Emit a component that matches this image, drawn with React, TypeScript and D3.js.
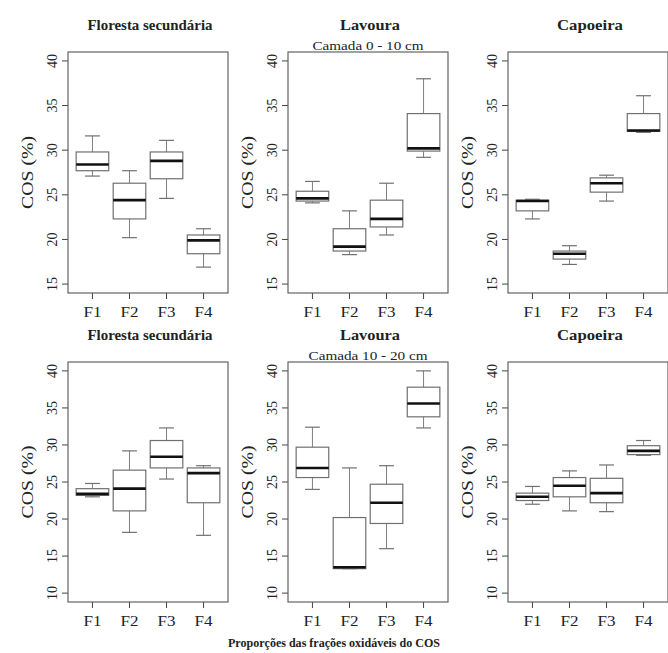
import * as d3 from 'd3';

// each row: [lower whisker, Q1, median, Q3, upper whisker] for F1..F4
const fractions = ['F1', 'F2', 'F3', 'F4'];

const florestaTop = [
  [27.1, 27.7, 28.4, 29.8, 31.6],
  [20.2, 22.3, 24.4, 26.3, 27.7],
  [24.6, 26.8, 28.8, 29.8, 31.1],
  [16.9, 18.4, 19.9, 20.5, 21.2],
];
const lavouraTop = [
  [24.1, 24.3, 24.6, 25.4, 26.5],
  [18.3, 18.7, 19.2, 21.2, 23.2],
  [20.5, 21.4, 22.3, 24.4, 26.3],
  [29.2, 29.9, 30.2, 34.1, 38.0],
];
const capoeiraTop = [
  [22.3, 23.2, 24.3, 24.4, 24.5],
  [17.2, 17.8, 18.4, 18.7, 19.3],
  [24.3, 25.3, 26.3, 26.9, 27.2],
  [32.0, 32.1, 32.2, 34.1, 36.1],
];
const florestaBottom = [
  [23.0, 23.2, 23.4, 24.1, 24.8],
  [18.2, 21.1, 24.1, 26.6, 29.2],
  [25.4, 26.9, 28.4, 30.6, 32.3],
  [17.8, 22.2, 26.2, 26.9, 27.2],
];
const lavouraBottom = [
  [24.0, 25.6, 26.9, 29.7, 32.4],
  [13.3, 13.3, 13.5, 20.2, 26.9],
  [16.0, 19.4, 22.2, 24.7, 27.2],
  [32.3, 33.8, 35.6, 37.8, 40.0],
];
const capoeiraBottom = [
  [22.0, 22.5, 23.0, 23.5, 24.4],
  [21.1, 23.0, 24.5, 25.6, 26.5],
  [21.0, 22.2, 23.5, 25.5, 27.3],
  [28.6, 28.7, 29.2, 29.9, 30.6],
];

const topTicks = [15, 20, 25, 30, 35, 40];
const bottomTicks = [10, 15, 20, 25, 30, 35, 40];

const W = 668;
const H = 653;
const PANEL_W = 160;
const LEFTS = [68, 288, 508];
const FONT = "'Liberation Serif', 'Times New Roman', serif";
const BOX_COLOR = '#707070';

interface PanelProps {
  left: number;
  top: number;
  bottom: number;
  domain: [number, number];
  ticks: number[];
  data: number[][];
  title: string;
  titleWidth: number;
  subtitle?: string;
  subtitleWidth?: number;
}

function Panel({ left, top, bottom, domain, ticks, data, title, titleWidth, subtitle, subtitleWidth }: PanelProps) {
  const x = d3.scaleLinear().domain([0.34, 4.66]).range([left, left + PANEL_W]);
  const y = d3.scaleLinear().domain(domain).range([bottom, top]);
  const cx = left + PANEL_W / 2;
  const half = x(0.44) - x(0);
  const cap = x(0.2) - x(0);

  return (
    <g>
      <text
        x={cx + 2}
        y={top - 22}
        textAnchor="middle"
        fontWeight="bold"
        fontSize={15}
        textLength={titleWidth}
        lengthAdjust="spacingAndGlyphs"
      >
        {title}
      </text>
      {subtitle && (
        <text
          x={cx}
          y={top - 2}
          textAnchor="middle"
          fontSize={12}
          textLength={subtitleWidth}
          lengthAdjust="spacingAndGlyphs"
        >
          {subtitle}
        </text>
      )}

      {/* y axis */}
      {ticks.map((t) => (
        <g key={t}>
          <line x1={left - 6} x2={left} y1={y(t)} y2={y(t)} stroke="#444" />
          <text
            transform={`translate(${left - 11},${y(t)}) rotate(-90)`}
            textAnchor="middle"
            fontSize={14}
          >
            {t}
          </text>
        </g>
      ))}
      <text
        transform={`translate(${left - 35},${(top + bottom) / 2}) rotate(-90)`}
        textAnchor="middle"
        fontSize={16}
        textLength={73}
        lengthAdjust="spacingAndGlyphs"
      >
        COS (%)
      </text>

      {/* x axis */}
      {fractions.map((f, i) => (
        <g key={f}>
          <line x1={x(i + 1)} x2={x(i + 1)} y1={bottom} y2={bottom + 6} stroke="#444" />
          <text
            x={x(i + 1)}
            y={bottom + 24}
            textAnchor="middle"
            fontSize={15}
            textLength={18}
            lengthAdjust="spacingAndGlyphs"
          >
            {f}
          </text>
        </g>
      ))}

      {/* boxes */}
      {data.map((d, i) => {
        const c = x(i + 1);
        const [lo, q1, med, q3, hi] = d;
        return (
          <g key={i} fill="none">
            <line x1={c} x2={c} y1={y(q3)} y2={y(hi)} stroke={BOX_COLOR} strokeWidth={0.9} />
            <line x1={c} x2={c} y1={y(q1)} y2={y(lo)} stroke={BOX_COLOR} strokeWidth={0.9} />
            <line x1={c - cap} x2={c + cap} y1={y(hi)} y2={y(hi)} stroke={BOX_COLOR} strokeWidth={1.2} />
            <line x1={c - cap} x2={c + cap} y1={y(lo)} y2={y(lo)} stroke={BOX_COLOR} strokeWidth={1.2} />
            <rect
              x={c - half}
              y={y(q3)}
              width={half * 2}
              height={Math.max(0.5, y(q1) - y(q3))}
              fill="#fff"
              stroke={BOX_COLOR}
              strokeWidth={1.2}
            />
            <line x1={c - half} x2={c + half} y1={y(med)} y2={y(med)} stroke="#111" strokeWidth={2.6} />
          </g>
        );
      })}

      <rect x={left} y={top} width={PANEL_W} height={bottom - top} fill="none" stroke="#555" strokeWidth={1.1} />
    </g>
  );
}

export default function App() {
  const topRow = [florestaTop, lavouraTop, capoeiraTop];
  const bottomRow = [florestaBottom, lavouraBottom, capoeiraBottom];
  const titles = ['Floresta secundária', 'Lavoura', 'Capoeira'];
  const titleWidths = [125, 60, 66];

  return (
    <svg
      width={W}
      height={H}
      style={{ position: 'absolute', left: 0, top: 0, background: '#fff', fontFamily: FONT }}
      fill="#222"
    >
      <rect width={W} height={H} fill="#fff" />
      {topRow.map((data, i) => (
        <Panel
          key={`t${i}`}
          left={LEFTS[i]}
          top={52}
          bottom={293}
          domain={[14, 41]}
          ticks={topTicks}
          data={data}
          title={titles[i]}
          titleWidth={titleWidths[i]}
          subtitle={i === 1 ? 'Camada 0 - 10 cm' : undefined}
          subtitleWidth={111}
        />
      ))}
      {bottomRow.map((data, i) => (
        <Panel
          key={`b${i}`}
          left={LEFTS[i]}
          top={362}
          bottom={602}
          domain={[8.8, 41.2]}
          ticks={bottomTicks}
          data={data}
          title={titles[i]}
          titleWidth={titleWidths[i]}
          subtitle={i === 1 ? 'Camada 10 - 20 cm' : undefined}
          subtitleWidth={119}
        />
      ))}
      <text
        x={334}
        y={647}
        textAnchor="middle"
        fontWeight="bold"
        fontSize={12}
        textLength={212}
        lengthAdjust="spacingAndGlyphs"
      >
        Proporções das frações oxidáveis do COS
      </text>
    </svg>
  );
}
